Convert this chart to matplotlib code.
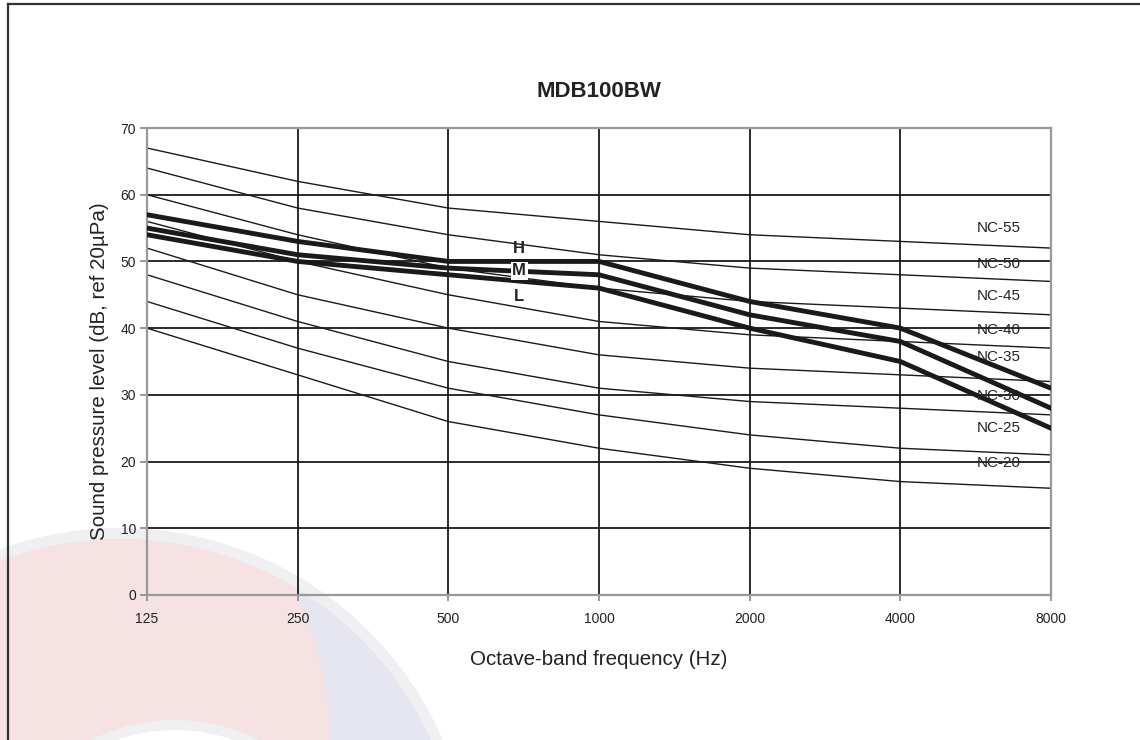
import numpy as np
import matplotlib
matplotlib.use("Agg")
import matplotlib.pyplot as plt
from matplotlib.patches import Circle
from matplotlib.lines import Line2D

plt.rcParams['font.family'] = ['Liberation Sans', 'DejaVu Sans']

# ---------------- data ----------------
freqs = [125, 250, 500, 1000, 2000, 4000, 8000]
freq_labels = ['125', '250', '500', '1000', '2000', '4000', '8000']

nc_names = ['NC-55', 'NC-50', 'NC-45', 'NC-40', 'NC-35', 'NC-30', 'NC-25', 'NC-20']
nc55 = [67, 62, 58, 56, 54, 53, 52]
nc50 = [64, 58, 54, 51, 49, 48, 47]
nc45 = [60, 54, 49, 46, 44, 43, 42]
nc40 = [56, 50, 45, 41, 39, 38, 37]
nc35 = [52, 45, 40, 36, 34, 33, 32]
nc30 = [48, 41, 35, 31, 29, 28, 27]
nc25 = [44, 37, 31, 27, 24, 22, 21]
nc20 = [40, 33, 26, 22, 19, 17, 16]
nc_curves = [nc55, nc50, nc45, nc40, nc35, nc30, nc25, nc20]
nc_label_y = [55, 49.6, 44.8, 39.7, 35.6, 29.8, 25, 19.8]
nc_label_x = 6300

speed_names = ['H', 'M', 'L']
spl_h = [57, 53, 50, 50, 44, 40, 31]
spl_m = [55, 51, 49, 48, 42, 38, 28]
spl_l = [54, 50, 48, 46, 40, 35, 25]
speed_curves = [spl_h, spl_m, spl_l]
speed_label_y = [51.9, 48.6, 44.7]
speed_label_x = 693

yticks = [0, 10, 20, 30, 40, 50, 60, 70]

# ---------------- figure ----------------
W, H = 1140, 740
fig = plt.figure(figsize=(W / 100, H / 100), dpi=100, facecolor='white')

# background (watermark + frame) in pixel coordinates
bg = fig.add_axes([0, 0, 1, 1], zorder=0)
bg.set_xlim(0, W)
bg.set_ylim(H, 0)
bg.axis('off')
bg.add_patch(Circle((120, 880), 352, facecolor='#f0f0f2', edgecolor='none'))
bg.add_patch(Circle((120, 880), 341, facecolor='#e5e6ef', edgecolor='none'))
pink = Circle((0, 740), 330, facecolor='#f6e2e3', edgecolor='none')
bg.add_patch(pink)
pink.set_clip_path(Circle((120, 880), 341, transform=bg.transData))
bg.add_patch(Circle((175, 905), 185, facecolor='#f0f0f2', edgecolor='none'))
bg.add_patch(Circle((175, 905), 175, facecolor='white', edgecolor='none'))
bg.add_line(Line2D([7.5, 7.5], [3.5, H], color='#333333', lw=1.6))
bg.add_line(Line2D([7.5, W], [3.5, 3.5], color='#333333', lw=1.6))

# main axes
ax = fig.add_axes([147 / W, 1 - 595 / H, 904 / W, 467 / H], zorder=1)
ax.patch.set_alpha(0)
ax.set_xscale('log', base=2)
ax.set_xlim(125, 8000)
ax.set_ylim(0, 70)

for y in yticks[1:-1]:
    ax.axhline(y, color='#1a1a1a', lw=1.3, zorder=1)
for f in freqs[1:-1]:
    ax.axvline(f, color='#1a1a1a', lw=1.3, zorder=1)

for curve in nc_curves:
    ax.plot(freqs, curve, color='#1a1a1a', lw=1.0, zorder=2)
for curve in speed_curves:
    ax.plot(freqs, curve, color='#1a1a1a', lw=3.5, zorder=3,
            solid_joinstyle='miter')

for name, y in zip(nc_names, nc_label_y):
    ax.text(nc_label_x, y, name, ha='center', va='center', fontsize=11,
            color='#222222', zorder=4)

for name, y in zip(speed_names, speed_label_y):
    bbox = None
    if name == 'M':
        bbox = dict(facecolor='white', edgecolor='none', pad=1.0)
    ax.text(speed_label_x, y, name, ha='center', va='center', fontsize=12,
            fontweight='bold', color='#222222', zorder=5, bbox=bbox)

ax.set_xticks(freqs)
ax.set_xticklabels(freq_labels)
ax.xaxis.set_minor_locator(matplotlib.ticker.NullLocator())
ax.set_yticks(yticks)
ax.tick_params(axis='x', direction='out', length=4, width=1.2, color='#888888',
               labelsize=10, labelcolor='#222222', pad=8)
ax.tick_params(axis='y', direction='out', length=5, width=1.2, color='#888888',
               labelsize=10, labelcolor='#222222', pad=3)

for s in ax.spines.values():
    s.set_color('#999999')
    s.set_linewidth(1.6)
    s.set_zorder(2)

ax.set_title('MDB100BW', fontsize=16, fontweight='bold', color='#222222', pad=22)
ax.set_ylabel('Sound pressure level (dB, ref 20µPa)', fontsize=14.8, color='#222222')
ax.set_xlabel('Octave-band frequency (Hz)', fontsize=14.8, color='#222222')
ax.yaxis.set_label_coords(-0.042, 0.48)
ax.xaxis.set_label_coords(0.5, -0.118)

fig.savefig('out.png', dpi=100, facecolor='white')
